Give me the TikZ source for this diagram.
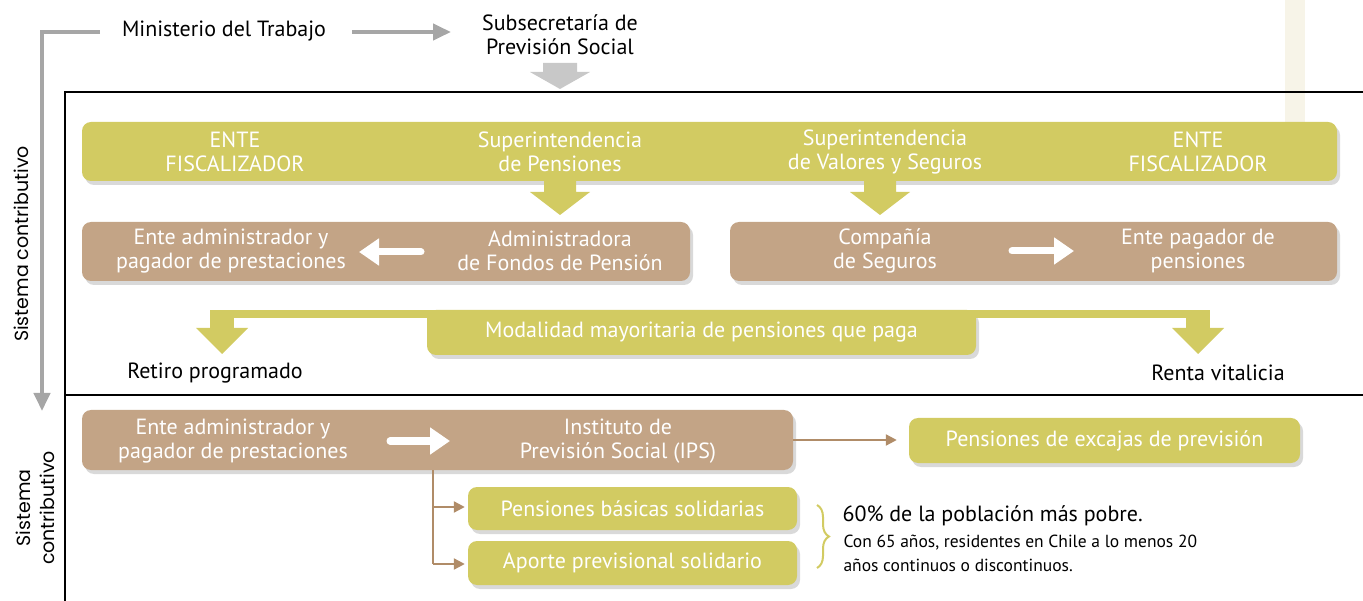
\documentclass[tikz,border=0pt]{standalone}
\usepackage{fontspec}
\setmainfont{PT Sans}
\newfontfamily\rotfont{Poppins}
\usetikzlibrary{arrows.meta,shadows,decorations.pathreplacing,calc}
\definecolor{olive}{HTML}{D2CB62}
\definecolor{tan}{HTML}{C3A486}
\definecolor{tanline}{HTML}{B08C68}
\definecolor{lgray}{HTML}{A6A6A6}
\definecolor{bgray}{HTML}{C8C8C8}
\definecolor{stripe}{HTML}{F7F4E8}
\tikzset{
  sh/.style={drop shadow={opacity=0.3,shadow xshift=3pt,shadow yshift=-4pt}},
  obox/.style={fill=olive,rounded corners=9pt,sh,inner sep=0pt},
  bbox/.style={fill=tan,rounded corners=9pt,sh,inner sep=0pt},
  wtxt/.style={text=white,align=center,font=\fontsize{22}{24}\selectfont},
  ktxt/.style={text=black,align=center,font=\fontsize{22}{24}\selectfont},
  warrow/.style={draw=white,line width=7pt,line cap=round,-{Triangle[length=20pt,width=26pt]}},
  tarrow/.style={draw=tanline,line width=2.2pt,-{Triangle[length=11pt,width=11pt]}},
  garrow/.style={draw=lgray,line width=4pt},
}
\begin{document}
\begin{tikzpicture}[x=1pt,y=-1pt]
\useasboundingbox (0,0) rectangle (1363,601);
% light stripe
\fill[stripe] (1285,0) rectangle (1305,125);
% frame
\draw[line width=1.2pt] (1363,92) -- (65,92) -- (65,601);
\draw[line width=1.2pt] (65,395) -- (1363,395);

% top texts
\node[ktxt] (min) at (224,31) {Ministerio del Trabajo};
\node[ktxt] (sub) at (560,35) {Subsecretaría de\\Previsión Social};
\coordinate (subin) at (451,32);
\draw[garrow,-{Triangle[length=18pt,width=16pt]}] (352,32) -- (subin);
\coordinate (gstart) at (100,32);
\coordinate (gend) at (42,411);
\draw[garrow,-{Triangle[length=18pt,width=16pt]}] (gstart) -- (42,32) -- (gend);
% gray block arrow
\fill[bgray] (543,63) -- (577,63) -- (577,72) -- (590,72) -- (560,89) -- (530,72) -- (543,72) -- cycle;

% rotated labels
\node[rotate=90,font=\rotfont\fontsize{19}{21}\selectfont] (sc1) at (21,244) {Sistema contributivo};
\node[rotate=90,align=center,font=\rotfont\fontsize{19}{24}\selectfont] (sc2) at (35,508) {Sistema\\contributivo};

% green bar
\node[obox,minimum width=1255pt,minimum height=59pt] (bar) at (709.5,151.5) {};
\node[wtxt] (e1) at (235,152) {ENTE\\FISCALIZADOR};
\node[wtxt] (sp) at (560,152) {Superintendencia\\de Pensiones};
\node[wtxt] (svs) at (885,152) {Superintendencia\\de Valores y Seguros};
\node[wtxt] (e2) at (1198,152) {ENTE\\FISCALIZADOR};

% green block arrows down
\fill[olive] (544,181) -- (576,181) -- (576,192) -- (590,192) -- (560,215) -- (530,192) -- (544,192) -- cycle;
\fill[olive] (864,181) -- (896,181) -- (896,192) -- (910,192) -- (880,215) -- (850,192) -- (864,192) -- cycle;

% brown boxes
\node[bbox,minimum width=608pt,minimum height=59pt] (adm) at (386,251.5) {};
\node[wtxt] (adm1) at (231,251) {Ente administrador y\\pagador de prestaciones};
\node[wtxt] (afp) at (560,251) {Administradora\\de Fondos de Pensión};
\draw[warrow] (421,252) -- (359,252);

\node[bbox,minimum width=607pt,minimum height=59pt] (cia) at (1033.5,251.5) {};
\node[wtxt] (cs) at (885,251) {Compañía\\de Seguros};
\node[wtxt] (ep) at (1198,251) {Ente pagador de\\pensiones};
\draw[warrow] (1012,251) -- (1074,251);

% modalidad
\node[obox,minimum width=549pt,minimum height=45pt] (mod) at (701.5,332.5) {};
\fill[olive] (210,310) rectangle (1210,318);
\fill[olive] (210,310) rectangle (234,329);
\fill[olive] (196,328) -- (248,328) -- (222,354) -- cycle;
\fill[olive] (1186,310) rectangle (1210,329);
\fill[olive] (1172,328) -- (1224,328) -- (1198,354) -- cycle;
\node[wtxt] at (mod.center) {Modalidad mayoritaria de pensiones que paga};
\node[ktxt] (rp) at (215,373) {Retiro programado};
\node[ktxt] (rv) at (1218,373) {Renta vitalicia};

% lower section
\node[bbox,minimum width=711pt,minimum height=60pt] (ips) at (437.5,440) {};
\node[wtxt] (adm2) at (233,441) {Ente administrador y\\pagador de prestaciones};
\node[wtxt] (ipst) at (618,441) {Instituto de\\Previsión Social (IPS)};
\draw[warrow] (390,441) -- (450,441);

\node[obox,minimum width=391pt,minimum height=45pt] (exc) at (1104.5,440.5) {};
\node[wtxt] at (exc.center) {Pensiones de excajas de previsión};
\draw[tarrow] (ips.east |- 0,440) -- ($(exc.west |- 0,440)+(-12,0)$);

\node[obox,minimum width=329pt,minimum height=43pt] (pbs) at (632.5,508.5) {};
\node[wtxt] at (pbs.center) {Pensiones básicas solidarias};
\node[obox,minimum width=329pt,minimum height=44pt] (aps) at (632.5,563) {};
\node[wtxt] at (aps.center) {Aporte previsional solidario};

\coordinate (tr) at (433,470);
\draw[draw=tanline,line width=2.2pt] (tr) -- (433,564);
\draw[tarrow] (433,507) -- ($(pbs.west |- 0,507)+(-3,0)$);
\draw[tarrow] (433,564) -- ($(aps.west |- 0,564)+(-3,0)$);

% brace
\draw[olive,line width=2pt,decorate,decoration={brace,amplitude=12pt}] (817,505) -- (817,568);
\node[anchor=west,font=\fontsize{22}{24}\selectfont] (t1) at (839,516) {60\% de la población más pobre.};
\node[anchor=west,font=\fontsize{17.5}{19}\selectfont] (t2) at (840,543) {Con 65 años, residentes en Chile a lo menos 20};
\node[anchor=west,font=\fontsize{17.5}{19}\selectfont] (t3) at (840,565) {años continuos o discontinuos.};
\end{tikzpicture}
\end{document}
